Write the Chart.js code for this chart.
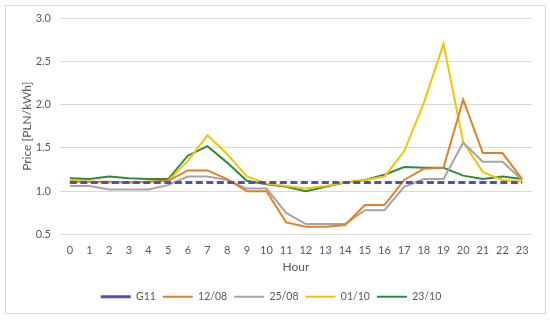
<!DOCTYPE html>
<html lang="en">
<head>
  <meta charset="UTF-8">
  <title>Price per hour</title>
  <script src="https://cdn.jsdelivr.net/npm/chart.js"></script>
  <style>
    body { margin: 0; background: #fff; }
    #wrap { width: 550px; height: 320px; }
  </style>
</head>
<body>
  <div id="wrap"><canvas id="grafico" width="550" height="320"></canvas></div>
  <script>
    // hours on x axis
    const hours = ['0','1','2','3','4','5','6','7','8','9','10','11','12','13','14','15','16','17','18','19','20','21','22','23'];
    const yTicks = [0.5, 1.0, 1.5, 2.0, 2.5, 3.0];

    // series (PLN/kWh)
    const g11   = [1.10,1.10,1.10,1.10,1.10,1.10,1.10,1.10,1.10,1.10,1.10,1.10,1.10,1.10,1.10,1.10,1.10,1.10,1.10,1.10,1.10,1.10,1.10,1.10];
    const d1208 = [1.11,1.11,1.11,1.10,1.11,1.12,1.24,1.24,1.14,1.00,1.00,0.64,0.59,0.59,0.61,0.84,0.84,1.13,1.26,1.27,2.06,1.44,1.44,1.14];
    const d2508 = [1.06,1.06,1.02,1.02,1.02,1.07,1.17,1.17,1.13,1.03,1.03,0.75,0.62,0.62,0.62,0.78,0.78,1.05,1.14,1.14,1.56,1.34,1.34,1.13];
    const d0110 = [1.12,1.11,1.10,1.10,1.11,1.12,1.35,1.645,1.43,1.17,1.09,1.06,1.03,1.06,1.10,1.13,1.17,1.46,2.02,2.70,1.57,1.22,1.13,1.11];
    const d2310 = [1.15,1.14,1.17,1.15,1.14,1.14,1.41,1.52,1.33,1.12,1.08,1.05,1.00,1.05,1.10,1.13,1.19,1.28,1.27,1.27,1.18,1.14,1.17,1.14];

    const texto = '#595959';
    const fonte = 'Lato, "Liberation Sans", sans-serif';

    // moldura cinza em volta do gráfico
    const moldura = {
      id: 'moldura',
      beforeDraw(chart) {
        const ctx = chart.ctx;
        ctx.save();
        ctx.fillStyle = '#fff';
        ctx.fillRect(0, 0, chart.width, chart.height);
        ctx.strokeStyle = '#d9d9d9';
        ctx.lineWidth = 1;
        ctx.strokeRect(5.5, 5.5, 540, 308);
        ctx.restore();
      }
    };

    function serie(label, data, cor, extra) {
      return Object.assign({
        label, data,
        borderColor: cor, backgroundColor: cor,
        borderWidth: 2, pointRadius: 0, tension: 0, fill: false
      }, extra || {});
    }

    new Chart(document.getElementById('grafico'), {
      type: 'line',
      data: {
        labels: hours,
        datasets: [
          serie('G11', g11, '#4F4FC2', { borderWidth: 3, borderDash: [7, 3.5] }),
          serie('12/08', d1208, '#E2802A'),
          serie('25/08', d2508, '#A5A5A5'),
          serie('01/10', d0110, '#F5C400'),
          serie('23/10', d2310, '#2E8B3E')
        ]
      },
      options: {
        responsive: false,
        animation: false,
        layout: { padding: { left: 10, right: 18, top: 18, bottom: 8 } },
        plugins: {
          legend: {
            position: 'bottom',
            labels: {
              usePointStyle: true,
              pointStyle: 'line',
              pointStyleWidth: 30,
              boxHeight: 11,
              padding: 7,
              color: texto,
              font: { family: fonte, size: 10.5 }
            }
          },
          tooltip: { enabled: false }
        },
        scales: {
          x: {
            offset: true,
            grid: { display: false },
            border: { display: false },
            ticks: { color: texto, font: { family: fonte, size: 11 }, padding: 1, maxRotation: 0, autoSkip: false },
            title: { display: true, text: 'Hour', color: texto, font: { family: fonte, size: 12 }, padding: { top: 0, bottom: 10 } },
            afterFit(s) { s.height = 50; }
          },
          y: {
            min: 0.5, max: 3.0,
            afterBuildTicks(s) { s.ticks = yTicks.map(v => ({ value: v })); },
            grid: { color: '#d9d9d9', drawTicks: false },
            border: { display: false },
            ticks: { color: texto, font: { family: fonte, size: 11 }, padding: 9, callback: v => Number(v).toFixed(1) },
            title: { display: true, text: 'Price [PLN/kWh]', color: texto, font: { family: fonte, size: 12 }, padding: { top: 10, bottom: 0 } },
            afterFit(s) { s.width = 50; }
          }
        }
      },
      plugins: [moldura]
    });
  </script>
</body>
</html>
